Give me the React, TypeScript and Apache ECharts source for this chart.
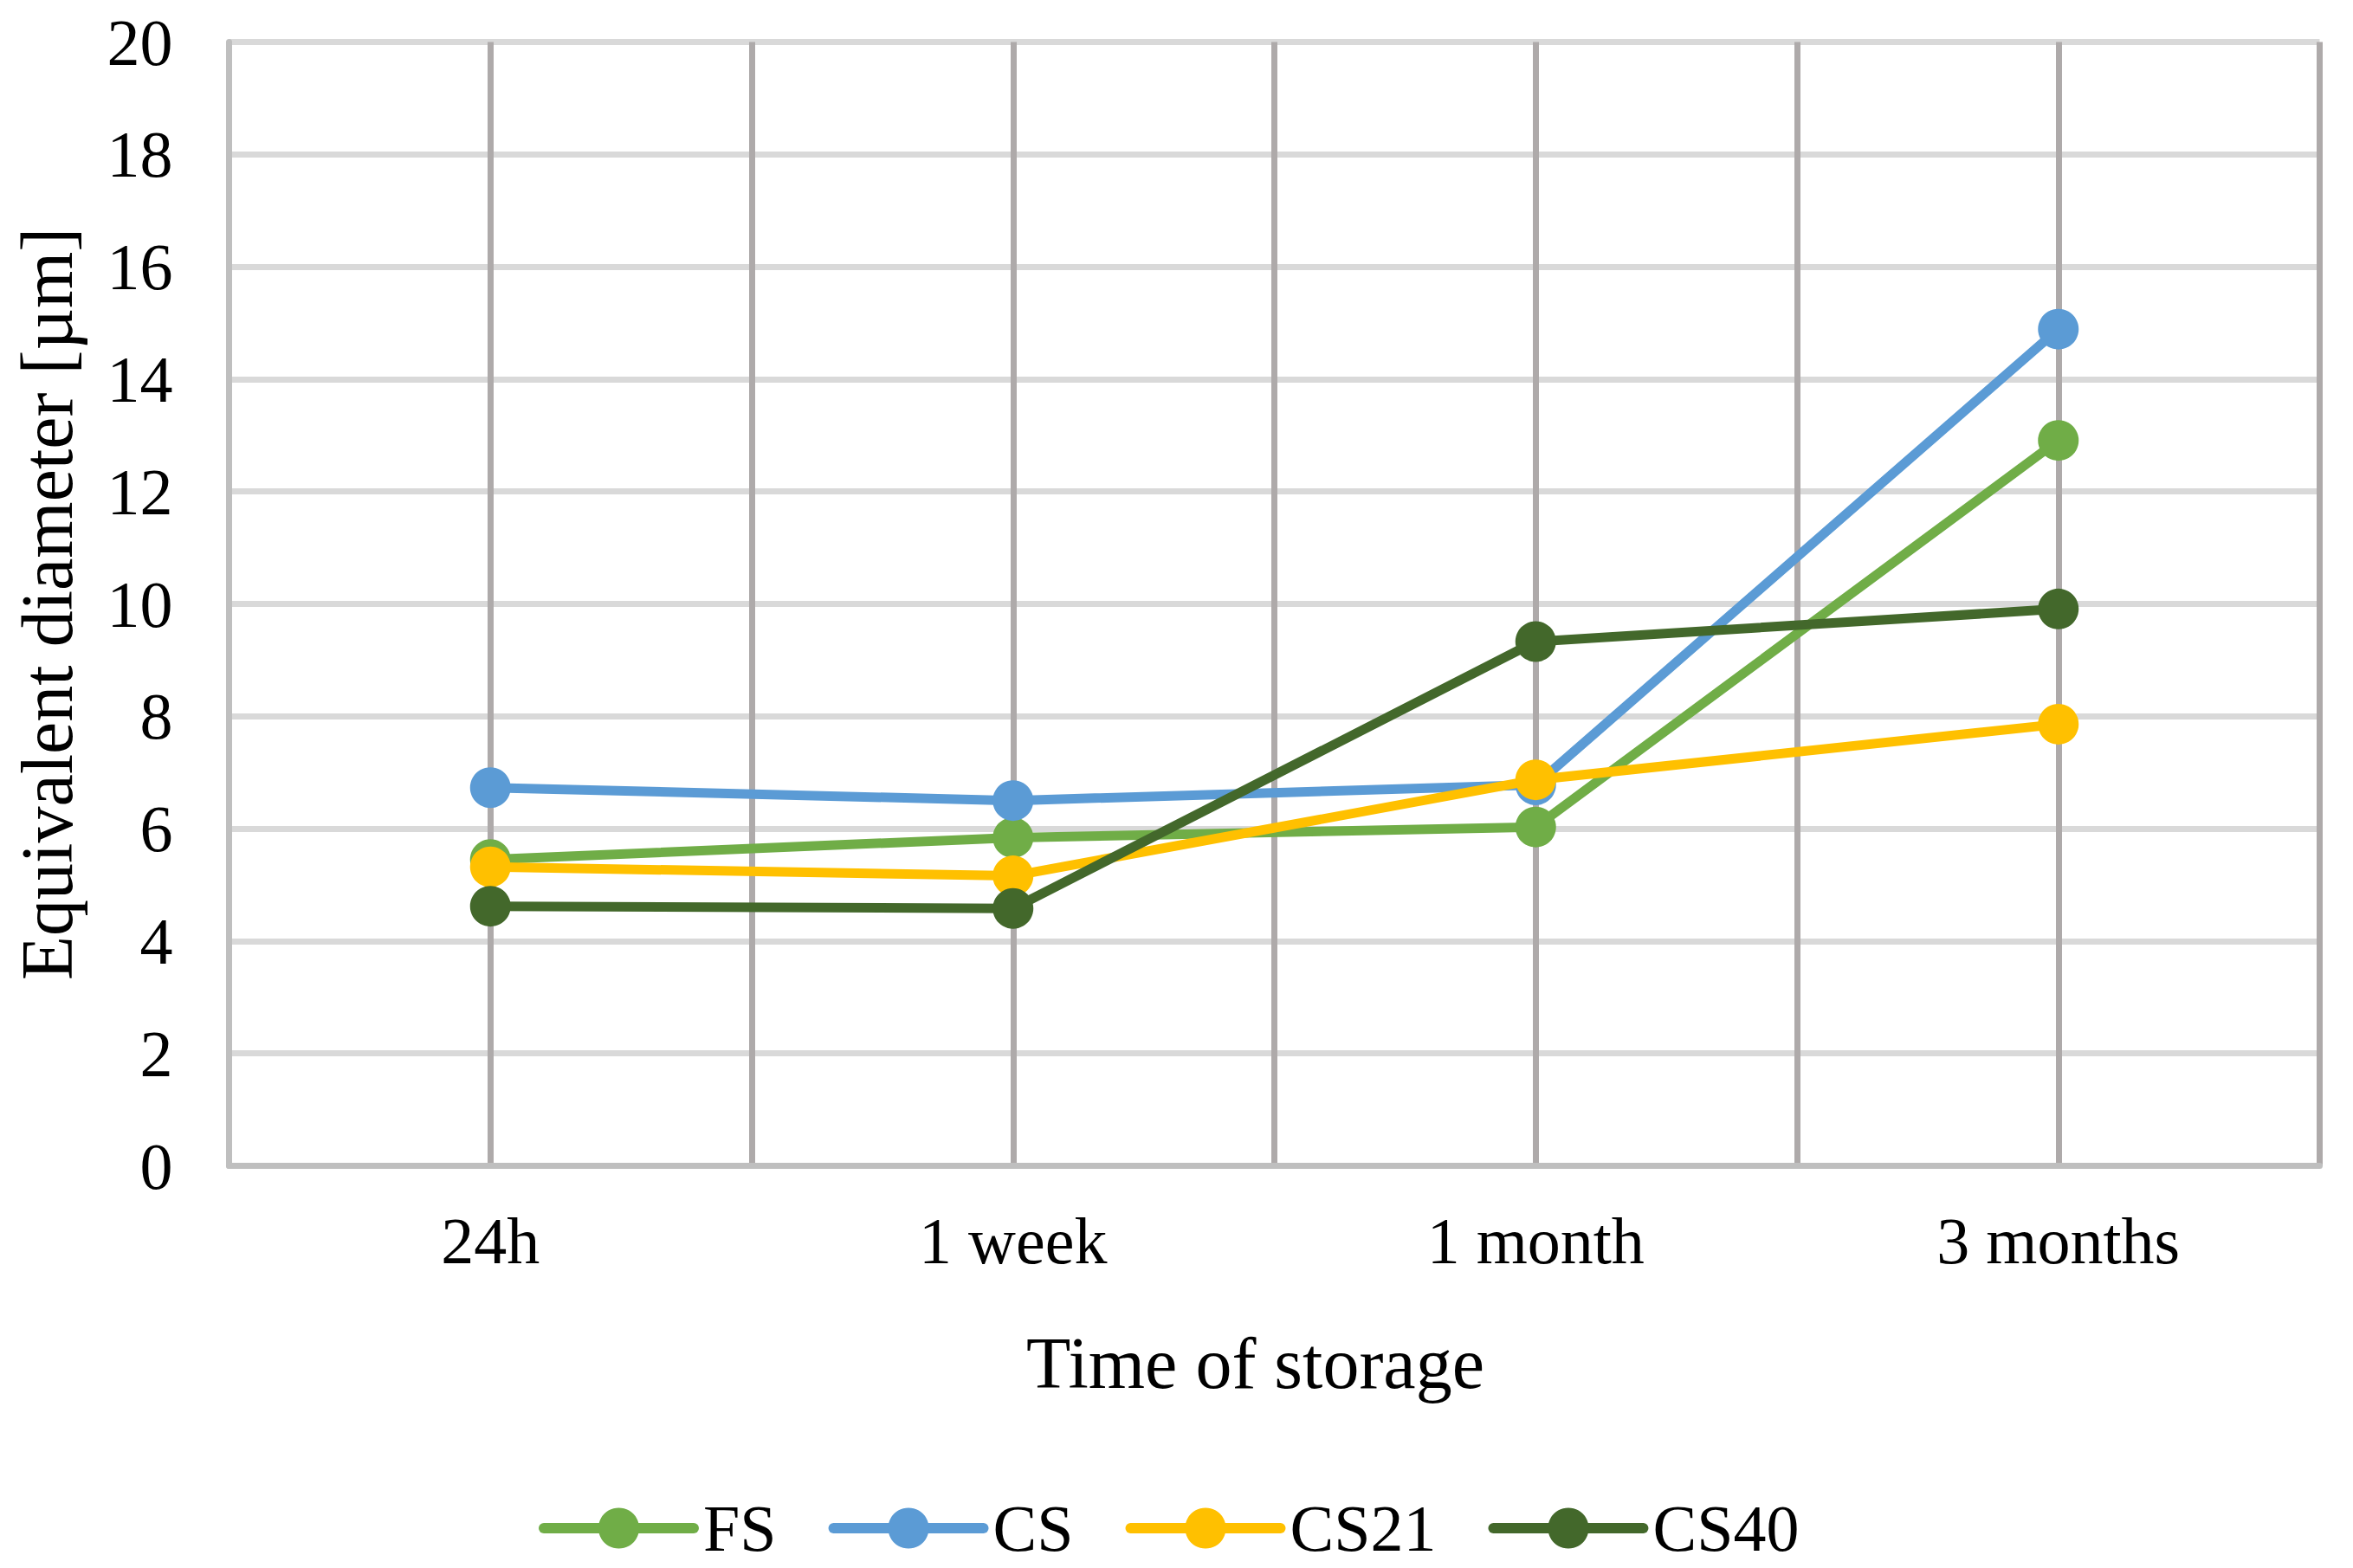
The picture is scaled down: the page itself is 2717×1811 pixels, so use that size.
import React, { useEffect, useRef } from "react";
import * as echarts from "echarts";

const categories = ["24h", "1 week", "1 month", "3 months"];
const seriesNames = ["FS", "CS", "CS21", "CS40"];
const fsValues = [5.45, 5.84, 6.03, 12.91];
const csValues = [6.73, 6.5, 6.78, 14.89];
const cs21Values = [5.32, 5.16, 6.87, 7.86];
const cs40Values = [4.62, 4.58, 9.33, 9.91];
const colors = ["#70AD47", "#5B9BD5", "#FFC000", "#43682B"];

const FONT = "'Liberation Serif', 'Times New Roman', serif";

export default function App() {
  const ref = useRef<HTMLDivElement>(null);
  useEffect(() => {
    document.body.style.margin = "0";
    if (!ref.current) return;
    const chart = echarts.init(ref.current, null, { renderer: "svg" });
    const data = [fsValues, csValues, cs21Values, cs40Values];
    chart.setOption({
      animation: false,
      backgroundColor: "#ffffff",
      textStyle: { fontFamily: FONT },
      grid: {
        left: 264.5,
        right: 38.5,
        top: 48.5,
        bottom: 464.5,
        containLabel: false,
        outerBoundsMode: "none",
      },
      legend: {
        left: 622,
        top: 1727,
        padding: 0,
        itemWidth: 173,
        itemHeight: 59,
        itemGap: 60,
        data: seriesNames,
        lineStyle: { width: 12, cap: "round" },
        textStyle: { fontFamily: FONT, fontSize: 76, color: "#000", padding: [0, 0, 0, 6] },
      },
      xAxis: [
        {
          type: "category",
          data: categories,
          boundaryGap: true,
          axisLine: { show: true, lineStyle: { color: "#bfbfbf", width: 7 } },
          axisTick: { show: false },
          splitLine: { show: false },
          axisLabel: { fontFamily: FONT, fontSize: 76, color: "#000", margin: 48 },
          name: "Time of storage",
          nameLocation: "middle",
          nameGap: 186,
          nameTextStyle: { fontFamily: FONT, fontSize: 84, color: "#000", padding: [0, 44, 0, 0] },
          z: 3,
        },
        {
          type: "value",
          min: 0,
          max: 8,
          interval: 1,
          position: "top",
          axisLine: { show: false },
          axisTick: { show: false },
          axisLabel: { show: false },
          splitLine: {
            show: true,
            showMinLine: false,
            showMaxLine: true,
            lineStyle: { color: "#aeaaaa", width: 7 },
          },
          z: 1,
        },
      ],
      yAxis: {
        type: "value",
        min: 0,
        max: 20,
        interval: 2,
        axisLine: { show: true, lineStyle: { color: "#bfbfbf", width: 7 } },
        axisTick: { show: false },
        splitLine: { show: true, lineStyle: { color: "#d9d9d9", width: 7 } },
        axisLabel: { fontFamily: FONT, fontSize: 76, color: "#000", margin: 65 },
        name: "Equivalent diameter [µm]",
        nameLocation: "middle",
        nameRotate: 90,
        nameGap: 168,
        nameTextStyle: { fontFamily: FONT, fontSize: 84, color: "#000" },
        z: 0,
      },
      series: seriesNames.map((n, i) => ({
        name: n,
        type: "line",
        xAxisIndex: 0,
        yAxisIndex: 0,
        data: data[i],
        symbol: "circle",
        symbolSize: 47,
        lineStyle: { color: colors[i], width: 11 },
        itemStyle: { color: colors[i] },
        z: 5 + i,
      })),
    });
    return () => chart.dispose();
  }, []);
  return <div ref={ref} style={{ width: 2717, height: 1811 }} />;
}
